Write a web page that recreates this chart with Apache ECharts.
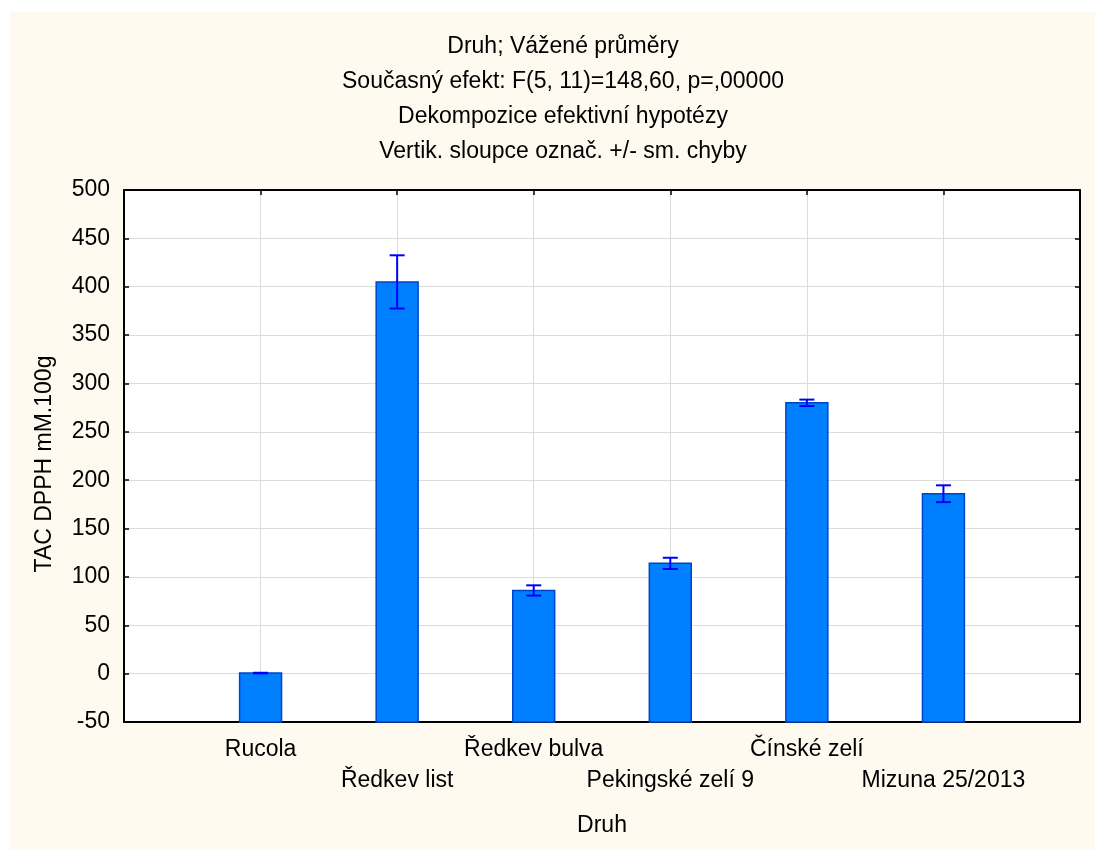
<!DOCTYPE html>
<html>
<head>
<meta charset="utf-8">
<script src="https://cdn.jsdelivr.net/npm/echarts@6/dist/echarts.min.js"></script>
<style>
  html, body { margin: 0; padding: 0; background: #ffffff; }
  #chart { width: 1095px; height: 850px; }
</style>
</head>
<body>
<div id="chart"></div>
<script>
    // data
    var druhy = ['Rucola', 'Ředkev list', 'Ředkev bulva', 'Pekingské zelí 9', 'Čínské zelí', 'Mizuna 25/2013'];
    var prumery = [0.6, 405, 86, 114, 280, 186];
    var chyby = [0.3, 27.5, 5.3, 5.8, 3.3, 8.7];   // +/- sm. chyba
    var yTicks = [-50, 0, 50, 100, 150, 200, 250, 300, 350, 400, 450, 500];

    var titleLines = [
        'Druh; Vážené průměry',
        'Současný efekt: F(5, 11)=148,60, p=,00000',
        'Dekompozice efektivní hypotézy',
        'Vertik. sloupce označ. +/- sm. chyby'
    ];

    // build [pozice, hodnota, chyba] rows, x = 1..6
    var barData = [];
    for (var i = 0; i < druhy.length; i++) {
        barData.push([i + 1, prumery[i], chyby[i]]);
    }

    var font = 'Liberation Sans, Arial, sans-serif';
    var chart = echarts.init(document.getElementById('chart'));

    chart.setOption({
        animation: false,
        backgroundColor: '#ffffff',
        graphic: [{
            type: 'rect',
            left: 10, top: 12, z: -10,
            shape: { width: 1085, height: 838 },
            style: { fill: '#fefaf0' }
        }],
        title: {
            text: titleLines.join('\n'),
            left: 558,
            top: 24,
            textAlign: 'center',
            textStyle: {
                fontFamily: font,
                fontSize: 23,
                fontWeight: 'normal',
                color: '#000',
                lineHeight: 35
            }
        },
        grid: {
            left: 124, top: 190, width: 956, height: 532,
            show: true, backgroundColor: '#ffffff', borderWidth: 0
        },
        xAxis: [{
            type: 'value',
            min: 0, max: 7, interval: 1,
            position: 'bottom',
            name: 'Druh',
            nameLocation: 'middle',
            nameGap: 92,
            nameTextStyle: { fontFamily: font, fontSize: 23, color: '#000' },
            axisLine: { onZero: false, lineStyle: { color: '#000', width: 2 } },
            axisTick: { inside: true, length: 5, lineStyle: { color: '#000', width: 1.5 } },
            axisLabel: {
                fontFamily: font, fontSize: 23, color: '#000', margin: 12, lineHeight: 31,
                formatter: function (v) {
                    if (v < 1 || v > 6) return '';
                    var n = druhy[v - 1];
                    return v % 2 === 1 ? n : '\n' + n;
                }
            },
            splitLine: { show: true, lineStyle: { color: '#dcdcdc', width: 1 } }
        }, {
            type: 'value',
            min: 0, max: 7, interval: 1,
            position: 'top',
            axisLine: { onZero: false, lineStyle: { color: '#000', width: 2 } },
            axisTick: { inside: true, length: 5, lineStyle: { color: '#000', width: 1.5 } },
            axisLabel: { show: false },
            splitLine: { show: false }
        }],
        yAxis: [{
            type: 'value',
            min: -50, max: 500, interval: 50,
            position: 'left',
            name: 'TAC DPPH mM.100g',
            nameLocation: 'middle',
            nameGap: 68,
            nameTextStyle: { fontFamily: font, fontSize: 23, color: '#000', padding: [0, 16, 0, 0] },
            axisLine: { show: true, onZero: false, lineStyle: { color: '#000', width: 2 } },
            axisTick: { show: true, inside: true, length: 5, lineStyle: { color: '#000', width: 1.5 } },
            axisLabel: { fontFamily: font, fontSize: 23, color: '#000', margin: 14 },
            splitLine: { show: true, lineStyle: { color: '#dcdcdc', width: 1 } }
        }, {
            type: 'value',
            min: -50, max: 500, interval: 50,
            position: 'right',
            axisLine: { show: true, onZero: false, lineStyle: { color: '#000', width: 2 } },
            axisTick: { show: true, inside: true, length: 5, lineStyle: { color: '#000', width: 1.5 } },
            axisLabel: { show: false },
            splitLine: { show: false }
        }],
        series: [{
            // sloupce od spodní hrany osy (-50)
            type: 'custom',
            xAxisIndex: 0, yAxisIndex: 0,
            data: barData,
            z: 3,
            renderItem: function (params, api) {
                var x = api.value(0);
                var top = api.coord([x, api.value(1)]);
                var base = api.coord([x, yTicks[0]]);
                var w = api.size([1, 0])[0] * 0.307;
                return {
                    type: 'rect',
                    shape: { x: top[0] - w / 2, y: top[1], width: w, height: base[1] - top[1] },
                    style: { fill: '#0080ff', stroke: '#0044c8', lineWidth: 1.5 }
                };
            }
        }, {
            // chybové úsečky
            type: 'custom',
            xAxisIndex: 0, yAxisIndex: 0,
            data: barData,
            z: 4,
            renderItem: function (params, api) {
                var x = api.value(0);
                var m = api.value(1), e = api.value(2);
                var hi = api.coord([x, m + e]);
                var lo = api.coord([x, m - e]);
                var cw = api.size([1, 0])[0] * 0.055;
                var st = { stroke: '#0000ff', lineWidth: 2 };
                return {
                    type: 'group',
                    children: [
                        { type: 'line', shape: { x1: hi[0], y1: hi[1], x2: lo[0], y2: lo[1] }, style: st },
                        { type: 'line', shape: { x1: hi[0] - cw, y1: hi[1], x2: hi[0] + cw, y2: hi[1] }, style: st },
                        { type: 'line', shape: { x1: lo[0] - cw, y1: lo[1], x2: lo[0] + cw, y2: lo[1] }, style: st }
                    ]
                };
            }
        }]
    });
</script>
</body>
</html>
